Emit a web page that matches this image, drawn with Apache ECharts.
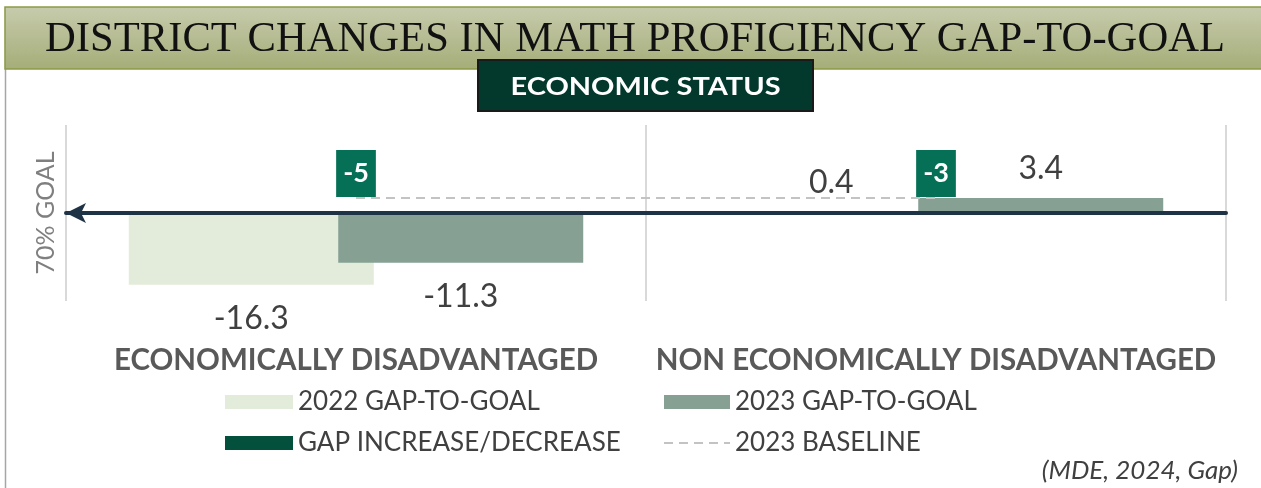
<!DOCTYPE html>
<html>
<head>
<meta charset="utf-8">
<title>District changes in math proficiency gap-to-goal</title>
<script src="https://cdn.jsdelivr.net/npm/echarts@6/dist/echarts.min.js"></script>
<style>
html, body { margin: 0; padding: 0; background: #fff; }
#main { width: 1261px; height: 488px; }
</style>
</head>
<body>
<div id="main"></div>
<script>
// data
var categories = ['ECONOMICALLY DISADVANTAGED', 'NON ECONOMICALLY DISADVANTAGED'];
var gap2022 = [-16.3, 0.4];
var gap2023 = [-11.3, 3.4];
var gapChange = [-5, -3];
var baseline2023 = [3.4, 3.4];
var seriesNames = ['2022 GAP-TO-GOAL', '2023 GAP-TO-GOAL', 'GAP INCREASE/DECREASE', '2023 BASELINE'];

var titleText = 'DISTRICT CHANGES IN MATH PROFICIENCY GAP-TO-GOAL';
var subTitleText = 'ECONOMIC STATUS';
var sourceText = '(MDE, 2024, Gap)';
var goalName = '70% GOAL';

var sans = 'Lato, "Open Sans", sans-serif';

// horizontal scale so a text fills the wanted width
function fitScale(text, font, width) {
  var ctx = document.createElement('canvas').getContext('2d');
  ctx.font = font;
  return width / ctx.measureText(text).width;
}

// value label goes under negative bars, over positive ones
function valueItem(v) {
  return { value: v, label: { position: v < 0 ? 'bottom' : 'top', distance: v < 0 ? 18 : 13 } };
}

function buildOption() {
  var titleFont = '42px "Liberation Serif"';
  var subFont = 'bold 24px Lato';
  var valueLabel = {
    show: true,
    fontFamily: sans,
    fontSize: 32,
    color: '#404040'
  };
  var legendText = { fontFamily: sans, fontSize: 26, color: '#404040' };

  return {
    animation: false,
    backgroundColor: '#fff',
    graphic: [
      { type: 'line', shape: { x1: 5.5, y1: 7, x2: 5.5, y2: 488 }, style: { stroke: '#a6a6a6', lineWidth: 1.5 } },
      {
        type: 'rect',
        shape: { x: 5, y: 7, width: 1260, height: 62 },
        style: {
          fill: new echarts.graphic.LinearGradient(0, 0, 0, 1, [
            { offset: 0, color: '#c7cbad' },
            { offset: 1, color: '#a5ad78' }
          ]),
          stroke: '#8c9a47',
          lineWidth: 1.5
        }
      },
      {
        type: 'text',
        x: 635, y: 40,
        scaleX: fitScale(titleText, titleFont, 1180),
        style: { text: titleText, font: titleFont, fill: '#111', align: 'center', verticalAlign: 'middle' }
      },
      {
        type: 'rect',
        shape: { x: 478, y: 60, width: 335, height: 51 },
        style: { fill: '#03392c', stroke: '#1a1a1a', lineWidth: 2 }
      },
      {
        type: 'text',
        x: 645.5, y: 87,
        scaleX: fitScale(subTitleText, subFont, 270),
        style: { text: subTitleText, font: subFont, fill: '#fff', align: 'center', verticalAlign: 'middle' }
      },
      {
        type: 'text',
        x: 1238, y: 471,
        style: { text: sourceText, font: 'italic 26px Lato', fill: '#404040', align: 'right', verticalAlign: 'middle' }
      }
    ],
    grid: { left: 66, right: 35, top: 125, bottom: 187 },
    legend: [
      {
        left: 225, top: 389, orient: 'vertical', padding: 0,
        itemWidth: 68, itemHeight: 14, itemGap: 15,
        textStyle: legendText,
        data: [
          { name: seriesNames[0], icon: 'rect' },
          { name: seriesNames[2], icon: 'rect', itemStyle: { color: '#03503c', opacity: 1 } }
        ]
      },
      {
        left: 663, top: 389, orient: 'vertical', padding: 0,
        itemWidth: 66, itemHeight: 14, itemGap: 15,
        textStyle: legendText,
        data: [
          { name: seriesNames[1], icon: 'rect' },
          { name: seriesNames[3], itemStyle: { opacity: 0 } }
        ]
      }
    ],
    xAxis: {
      type: 'category',
      data: categories,
      z: 3,
      axisLine: {
        onZero: true,
        symbol: ['arrow', 'none'],
        symbolSize: [15, 20],
        lineStyle: { color: '#1f3346', width: 4 }
      },
      axisTick: { show: false },
      axisLabel: {
        interval: 0,
        margin: 44,
        fontFamily: sans,
        fontWeight: 'bold',
        fontSize: 29.5,
        color: '#595959'
      },
      splitLine: { show: true, interval: 0, lineStyle: { color: '#d9d9d9', width: 2 } }
    },
    yAxis: {
      type: 'value',
      min: -20,
      max: 20,
      name: goalName,
      nameLocation: 'middle',
      nameGap: 8,
      nameTextStyle: { fontFamily: sans, fontSize: 25, color: '#7f7f7f' },
      axisLine: { show: false },
      axisTick: { show: false },
      axisLabel: { show: false },
      splitLine: { show: false }
    },
    series: [
      {
        name: seriesNames[0],
        type: 'bar',
        barWidth: 245,
        barGap: '-14.5%',
        itemStyle: { color: '#e3ecda' },
        label: valueLabel,
        data: gap2022.map(valueItem)
      },
      {
        name: seriesNames[1],
        type: 'bar',
        barWidth: 245,
        barGap: '-14.5%',
        itemStyle: { color: '#86a094' },
        label: valueLabel,
        data: gap2023.map(valueItem)
      },
      {
        name: seriesNames[3],
        type: 'line',
        symbol: 'none',
        z: 3,
        lineStyle: { color: '#c3c3c3', width: 2, type: [9, 6] },
        itemStyle: { color: '#c3c3c3' },
        data: baseline2023
      },
      {
        name: seriesNames[2],
        type: 'scatter',
        symbolSize: 0,
        z: 4,
        itemStyle: { color: '#03503c', opacity: 1 },
        label: {
          show: true,
          position: 'top',
          distance: 1,
          backgroundColor: '#067056',
          padding: [10, 7],
          fontFamily: sans,
          fontWeight: 'bold',
          fontSize: 27,
          lineHeight: 27,
          color: '#fff',
          formatter: function (p) {
            return gapChange[p.dataIndex];
          }
        },
        data: baseline2023
      }
    ]
  };
}

var chart = echarts.init(document.getElementById('main'));
chart.setOption(buildOption());
</script>
</body>
</html>
